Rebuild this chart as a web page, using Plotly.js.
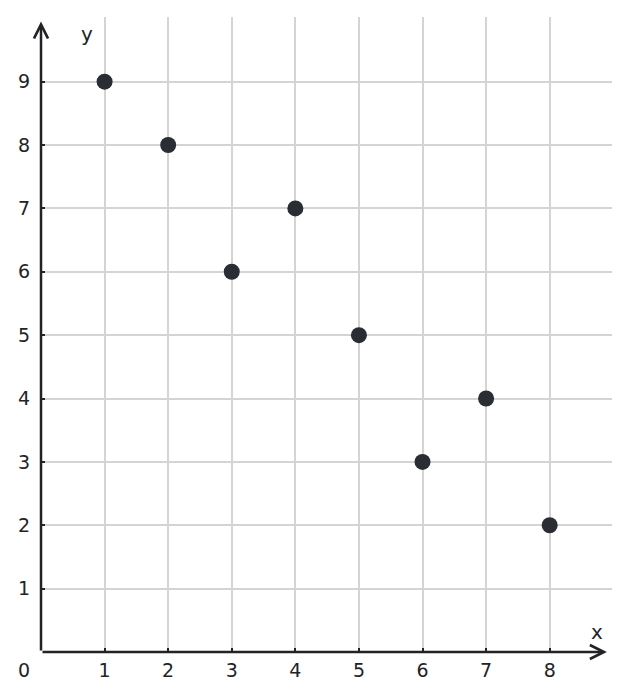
<!DOCTYPE html>
<html>
<head>
<meta charset="utf-8">
<script src="https://cdn.plot.ly/plotly-3.0.1.min.js"></script>
<style>
  html, body { margin: 0; padding: 0; background: white; }
  #chart { width: 630px; height: 700px; }
</style>
</head>
<body>
<div id="chart"></div>
<script>
// Scatter points
const xValues = [1, 2, 3, 4, 5, 6, 7, 8];
const yValues = [9, 8, 6, 7, 5, 3, 4, 2];
const xTicks = [1, 2, 3, 4, 5, 6, 7, 8];
const yTicks = [1, 2, 3, 4, 5, 6, 7, 8, 9];

const INK = '#222326';
const GRID = '#d4d4d4';
const FONT = 'DejaVu Sans, sans-serif';

const data = [{
  x: xValues,
  y: yValues,
  type: 'scatter',
  mode: 'markers',
  marker: { size: 16, color: '#2b2d34' },
  hoverinfo: 'x+y'
}];

const layout = {
  width: 630,
  height: 700,
  margin: { l: 41, r: 18, t: 17, b: 48 },
  paper_bgcolor: 'white',
  plot_bgcolor: 'white',
  showlegend: false,
  font: { family: FONT, size: 19, color: INK },
  xaxis: {
    range: [0, 8.98],
    tickvals: xTicks,
    showgrid: true,
    gridcolor: GRID,
    gridwidth: 2,
    zeroline: false,
    showline: false,
    ticks: 'inside',
    ticklen: 4,
    tickwidth: 2,
    tickcolor: INK,
    ticklabelstandoff: 5,
    tickfont: { family: FONT, size: 19, color: INK }
  },
  yaxis: {
    range: [0, 10.02],
    tickvals: yTicks,
    showgrid: true,
    gridcolor: GRID,
    gridwidth: 2,
    zeroline: false,
    showline: false,
    ticks: 'inside',
    ticklen: 4,
    tickwidth: 2,
    tickcolor: INK,
    ticklabelstandoff: 10,
    tickfont: { family: FONT, size: 19, color: INK }
  },
  annotations: [
    // x axis arrow
    {
      x: 8.9, y: 0, xref: 'x', yref: 'y',
      ax: 0, ay: 0, axref: 'x', ayref: 'y',
      showarrow: true, arrowhead: 5, arrowsize: 1.1, arrowwidth: 2.5,
      arrowcolor: INK, text: '', standoff: 0, startstandoff: 0
    },
    // y axis arrow
    {
      x: 0, y: 9.95, xref: 'x', yref: 'y',
      ax: 0, ay: 0, axref: 'x', ayref: 'y',
      showarrow: true, arrowhead: 5, arrowsize: 1.1, arrowwidth: 2.5,
      arrowcolor: INK, text: '', standoff: 0, startstandoff: 0
    },
    { x: 8.75, y: 0.32, xref: 'x', yref: 'y', text: 'x', showarrow: false,
      font: { family: FONT, size: 20, color: INK } },
    { x: 0.72, y: 9.75, xref: 'x', yref: 'y', text: 'y', showarrow: false,
      font: { family: FONT, size: 20, color: INK } },
    // '0' sits below-left of the origin
    { x: (24 - 41) / (630 - 41 - 18), y: -(670 - 652) / (700 - 17 - 48),
      xref: 'paper', yref: 'paper', xanchor: 'center', yanchor: 'middle',
      text: '0', showarrow: false,
      font: { family: FONT, size: 19, color: INK } }
  ]
};

Plotly.newPlot('chart', data, layout, { displayModeBar: false, staticPlot: true });
</script>
</body>
</html>
